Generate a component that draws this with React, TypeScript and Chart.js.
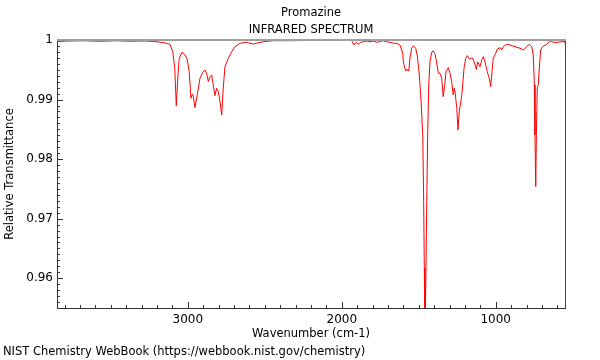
import React, { useEffect, useRef } from "react";
import { Chart, registerables } from "chart.js";

Chart.register(...registerables);

// ---- Data ----
const wavenumbers: number[] = [
  3850, 3766, 3668, 3571, 3473, 3376, 3278, 3213, 3168, 3137, 3116, 3098, 3085, 3075, 3064, 3056,
  3038, 3019, 3004, 2991, 2980, 2971, 2965, 2954, 2939, 2921, 2904, 2889, 2878, 2867, 2856, 2845,
  2835, 2824, 2813, 2802, 2791, 2780, 2770, 2759, 2737, 2715, 2694, 2661, 2618, 2575, 2510, 2447,
  2336, 2207, 2012, 1936, 1921, 1908, 1893, 1877, 1860, 1838, 1817, 1795, 1773, 1756, 1734, 1708,
  1687, 1665, 1643, 1622, 1611, 1604, 1600, 1591, 1583, 1574, 1565, 1557, 1546, 1535, 1520, 1510,
  1496, 1485, 1474, 1468, 1464, 1460, 1453, 1448, 1442, 1435, 1427, 1416, 1406, 1394, 1383, 1373,
  1362, 1351, 1341, 1331, 1323, 1308, 1297, 1286, 1276, 1269, 1263, 1253, 1245, 1237, 1227, 1219,
  1206, 1195, 1185, 1172, 1161, 1150, 1135, 1126, 1117, 1102, 1091, 1081, 1070, 1055, 1042, 1033,
  1024, 1016, 1000, 990, 972, 961, 951, 929, 907, 875, 842, 821, 799, 782, 766, 756,
  749, 745, 740, 736, 730, 723, 717, 708, 695, 669, 647, 626, 600, 571, 554, 550,
];

const transmittance: number[] = [
  0.99975, 0.99983, 0.99987, 0.99978, 0.99987, 0.9998, 0.99983, 0.99975, 0.99958, 0.99945, 0.99928, 0.99804, 0.99525, 0.98893, 0.99413, 0.99693,
  0.99794, 0.99748, 0.99676, 0.99468, 0.99022, 0.99089, 0.99061, 0.98865, 0.99078, 0.99358, 0.99458, 0.99497, 0.99441, 0.99301, 0.99384, 0.99413,
  0.99245, 0.99066, 0.9919, 0.99133, 0.98965, 0.98742, 0.9919, 0.99552, 0.99693, 0.99804, 0.99888, 0.99945, 0.99961, 0.99933, 0.99971, 0.99988,
  0.99988, 0.99993, 0.99995, 0.99995, 0.99916, 0.99961, 0.99928, 0.99961, 0.99971, 0.99983, 0.99971, 0.99983, 0.99961, 0.99971, 0.99988, 0.99971,
  0.99961, 0.99945, 0.99945, 0.99916, 0.99832, 0.99777, 0.99636, 0.99525, 0.9948, 0.99513, 0.9948, 0.99693, 0.9986, 0.99904, 0.9986, 0.99748,
  0.99413, 0.98965, 0.98407, 0.97288, 0.96176, 0.95, 0.96176, 0.97288, 0.98407, 0.99246, 0.99636, 0.99794, 0.99816, 0.99764, 0.99614, 0.99441,
  0.99441, 0.99358, 0.99049, 0.99245, 0.99468, 0.99535, 0.99441, 0.99301, 0.99078, 0.9919, 0.99106, 0.98854, 0.98491, 0.98798, 0.98965, 0.99106,
  0.99525, 0.99693, 0.99737, 0.99682, 0.99693, 0.99698, 0.99597, 0.99505, 0.99631, 0.99552, 0.99665, 0.9972, 0.99636, 0.99468, 0.99358, 0.99217,
  0.99468, 0.99693, 0.99777, 0.99849, 0.99871, 0.99832, 0.99888, 0.99928, 0.99916, 0.99888, 0.99861, 0.99832, 0.99888, 0.99928, 0.99888, 0.99748,
  0.99245, 0.98407, 0.97539, 0.98407, 0.99198, 0.99254, 0.99525, 0.99832, 0.99888, 0.99928, 0.99988, 0.99961, 0.99961, 0.99971, 0.99983, 0.99945,
];

const xTickValues: number[] = [1000, 2000, 3000];
const yTickValues: number[] = [0.96, 0.97, 0.98, 0.99, 1];
const titleLines: string[] = ["Promazine", "INFRARED SPECTRUM"];
const xAxisTitle = "Wavenumber (cm-1)";
const yAxisTitle = "Relative Transmittance";
const footerText = "NIST Chemistry WebBook (https://webbook.nist.gov/chemistry)";

const X_MIN = 550;
const X_MAX = 3850;
const Y_MIN = 0.955;
const Y_MAX = 1;

const FONT_FAMILY = '"DejaVu Sans", sans-serif';
const TEXT_SIZE = 11.5;

const framePlugin = {
  id: "nistFrame",
  afterDatasetsDraw(chart: any) {
    const { ctx, chartArea: a, scales } = chart;
    const x = scales.x;
    const y = scales.y;
    ctx.save();
    // minor / major ticks pointing inwards
    ctx.strokeStyle = "#333";
    ctx.lineWidth = 1;
    ctx.beginPath();
    for (let v = 600; v <= 3800; v += 100) {
      const px = Math.round(x.getPixelForValue(v)) + 0.5;
      const len = v % 1000 === 0 ? 6 : 3;
      ctx.moveTo(px, a.bottom);
      ctx.lineTo(px, a.bottom - len);
    }
    for (let i = 955; i <= 1000; i++) {
      const py = Math.round(y.getPixelForValue(i / 1000)) + 0.5;
      const len = i % 10 === 0 ? 6 : 3;
      ctx.moveTo(a.left, py);
      ctx.lineTo(a.left + len, py);
    }
    ctx.stroke();
    // right frame line
    ctx.strokeStyle = "#444";
    ctx.beginPath();
    ctx.moveTo(a.right + 0.5, a.top);
    ctx.lineTo(a.right + 0.5, a.bottom);
    ctx.stroke();
    // top frame line (gray)
    ctx.strokeStyle = "#a0a0a0";
    ctx.lineWidth = 2;
    ctx.beginPath();
    ctx.moveTo(a.left, a.top);
    ctx.lineTo(a.right + 1, a.top);
    ctx.stroke();

    // titles and footer
    ctx.fillStyle = "#000";
    ctx.font = `${TEXT_SIZE}px ${FONT_FAMILY}`;
    ctx.textAlign = "center";
    ctx.textBaseline = "middle";
    const cx = (a.left + a.right) / 2;
    ctx.fillText(titleLines[0], cx, 13);
    ctx.fillText(titleLines[1], cx, 30);
    ctx.textAlign = "left";
    ctx.fillText(footerText, 3, 352);
    ctx.restore();
  },
};

export default function App() {
  const canvasRef = useRef<HTMLCanvasElement | null>(null);

  useEffect(() => {
    const canvas = canvasRef.current;
    if (!canvas) return;
    const points = wavenumbers.map((w, i) => ({ x: w, y: transmittance[i] }));
    const chart = new Chart(canvas, {
      type: "line",
      data: {
        datasets: [
          {
            data: points,
            borderColor: "rgb(255,0,0)",
            borderWidth: 1,
            pointRadius: 0,
            tension: 0,
            fill: false,
          },
        ],
      },
      options: {
        responsive: false,
        animation: false,
        events: [],
        layout: { padding: { top: 40, right: 35, left: 0, bottom: 0 } },
        plugins: {
          legend: { display: false },
          tooltip: { enabled: false },
          title: { display: false },
        },
        scales: {
          x: {
            type: "linear",
            reverse: true,
            min: X_MIN,
            max: X_MAX,
            grid: { display: false, drawTicks: false },
            border: { display: true, color: "#333", width: 1 },
            afterBuildTicks: (scale: any) => {
              scale.ticks = xTickValues.map((v) => ({ value: v }));
            },
            afterFit: (scale: any) => {
              scale.height = 52;
            },
            ticks: {
              color: "#000",
              font: { family: FONT_FAMILY, size: 12 },
              padding: 5,
              maxRotation: 0,
              callback: (v: any) => String(v),
            },
            title: {
              display: true,
              text: xAxisTitle,
              color: "#000",
              font: { family: FONT_FAMILY, size: TEXT_SIZE },
              padding: { top: 0, bottom: 19 },
            },
          },
          y: {
            type: "linear",
            min: Y_MIN,
            max: Y_MAX,
            grid: { display: false, drawTicks: false },
            border: { display: true, color: "#333", width: 1 },
            afterBuildTicks: (scale: any) => {
              scale.ticks = yTickValues.map((v) => ({ value: v }));
            },
            afterFit: (scale: any) => {
              scale.width = 57;
            },
            ticks: {
              color: "#000",
              font: { family: FONT_FAMILY, size: 12 },
              padding: 4,
              callback: (v: any) => String(Number(Number(v).toFixed(3))),
            },
            title: {
              display: true,
              text: yAxisTitle,
              color: "#000",
              font: { family: FONT_FAMILY, size: TEXT_SIZE },
              padding: { top: 3, bottom: 0 },
            },
          },
        },
      },
      plugins: [framePlugin],
    });
    return () => chart.destroy();
  }, []);

  return (
    <div style={{ position: "fixed", left: 0, top: 0, width: 600, height: 360, background: "#fff" }}>
      <canvas ref={canvasRef} width={600} height={360} />
    </div>
  );
}
